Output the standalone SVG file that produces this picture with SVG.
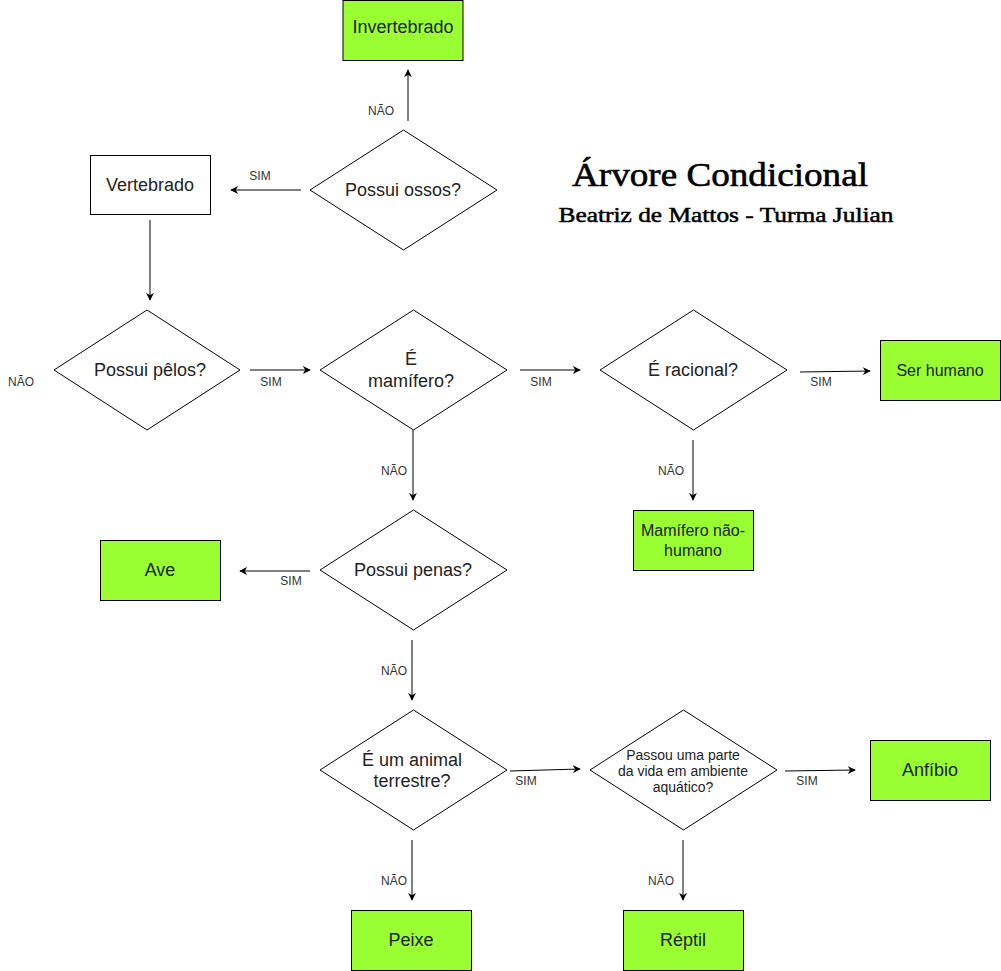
<svg xmlns="http://www.w3.org/2000/svg" width="1001" height="971" viewBox="0 0 1001 971">
<style>
.box{fill:#fff;stroke:#000;stroke-width:1}
.leaf{fill:#99ff33;stroke:#000;stroke-width:1}
.dia{fill:#fff;stroke:#000;stroke-width:1}
.t{font-family:"Liberation Sans",Arial,sans-serif;font-size:18px;fill:#222;text-anchor:middle}
.t16{font-family:"Liberation Sans",Arial,sans-serif;font-size:16px;fill:#222;text-anchor:middle}
.t14{font-family:"Liberation Sans",Arial,sans-serif;font-size:14px;fill:#222;text-anchor:middle}
.lbl{font-family:"Liberation Sans",Arial,sans-serif;font-size:12px;fill:#333;text-anchor:middle}
.edge{stroke:#000;stroke-width:1;fill:none;marker-end:url(#ah)}
.title{font-family:"Liberation Serif","Times New Roman",serif;fill:#000;stroke:#000;text-anchor:middle}
</style>
<defs>
<marker id="ah" viewBox="0 0 10 10" refX="9" refY="5" markerWidth="8" markerHeight="8" markerUnits="userSpaceOnUse" orient="auto">
<path d="M0,0 L10,5 L0,10 L3,5 Z" fill="#000"/>
</marker>
</defs>
<rect width="1001" height="971" fill="#fff"/>

<g id="connectors">
<line class="edge" x1="408" y1="121" x2="408" y2="70"/>
<line class="edge" x1="301" y1="190" x2="231" y2="190"/>
<line class="edge" x1="150" y1="220" x2="150" y2="300"/>
<line class="edge" x1="250" y1="370" x2="310" y2="370"/>
<line class="edge" x1="520" y1="370" x2="580" y2="370"/>
<line class="edge" x1="800" y1="372" x2="870" y2="371"/>
<line class="edge" x1="693" y1="440" x2="693" y2="500"/>
<line class="edge" x1="413" y1="430" x2="413" y2="500"/>
<line class="edge" x1="310" y1="571" x2="240" y2="571"/>
<line class="edge" x1="412" y1="640" x2="412" y2="700"/>
<line class="edge" x1="510" y1="771" x2="580" y2="769"/>
<line class="edge" x1="785" y1="771" x2="855" y2="770"/>
<line class="edge" x1="412" y1="840" x2="412" y2="900"/>
<line class="edge" x1="683" y1="840" x2="683" y2="900"/>
<text class="lbl" x="381" y="115">NÃO</text>
<text class="lbl" x="260" y="180">SIM</text>
<text class="lbl" x="21" y="386">NÃO</text>
<text class="lbl" x="271" y="386">SIM</text>
<text class="lbl" x="541" y="386">SIM</text>
<text class="lbl" x="821" y="386">SIM</text>
<text class="lbl" x="671" y="475">NÃO</text>
<text class="lbl" x="394" y="475">NÃO</text>
<text class="lbl" x="291" y="585">SIM</text>
<text class="lbl" x="394" y="675">NÃO</text>
<text class="lbl" x="526" y="785">SIM</text>
<text class="lbl" x="807" y="785">SIM</text>
<text class="lbl" x="394" y="885">NÃO</text>
<text class="lbl" x="661" y="885">NÃO</text>
</g>

<g id="title">
<text class="title" x="720" y="186" font-size="34" stroke-width="0.6" textLength="296" lengthAdjust="spacingAndGlyphs">Árvore Condicional</text>
<text class="title" x="726" y="222" font-size="21" stroke-width="0.5" textLength="335" lengthAdjust="spacingAndGlyphs">Beatriz de Mattos - Turma Julian</text>
</g>

<g id="invertebrado">
<rect class="leaf" x="343" y="0.5" width="120" height="60"/>
<text class="t" x="403" y="33">Invertebrado</text>
</g>
<g id="possui-ossos">
<polygon class="dia" points="403.5,130 497,190 403.5,250 310,190"/>
<text class="t" x="403" y="196">Possui ossos?</text>
</g>
<g id="vertebrado">
<rect class="box" x="90.5" y="155.5" width="120" height="59"/>
<text class="t" x="150" y="191">Vertebrado</text>
</g>
<g id="possui-pelos">
<polygon class="dia" points="147,310 240,370 147,430 54,370"/>
<text class="t" x="150" y="376">Possui pêlos?</text>
</g>
<g id="e-mamifero">
<polygon class="dia" points="413.5,310 507,370 413.5,430 320,370"/>
<text class="t" x="411" y="365">É</text>
<text class="t" x="411" y="387">mamífero?</text>
</g>
<g id="e-racional">
<polygon class="dia" points="693.5,310 787,370 693.5,430 600,370"/>
<text class="t" x="693" y="376">É racional?</text>
</g>
<g id="ser-humano">
<rect class="leaf" x="880.5" y="340.5" width="120" height="60"/>
<text class="t16" x="940" y="376">Ser humano</text>
</g>
<g id="mamifero-nao-humano">
<rect class="leaf" x="633.5" y="510.5" width="120" height="60"/>
<text class="t16" x="693" y="536">Mamífero não-</text>
<text class="t16" x="693" y="556">humano</text>
</g>
<g id="possui-penas">
<polygon class="dia" points="413.5,510 507,570 413.5,630 320,570"/>
<text class="t" x="413" y="576">Possui penas?</text>
</g>
<g id="ave">
<rect class="leaf" x="100.5" y="540.5" width="120" height="60"/>
<text class="t" x="160" y="576">Ave</text>
</g>
<g id="animal-terrestre">
<polygon class="dia" points="413.5,710 507,770 413.5,830 320,770"/>
<text class="t" x="412" y="766">É um animal</text>
<text class="t" x="412" y="787">terrestre?</text>
</g>
<g id="passou-aquatico">
<polygon class="dia" points="683.5,710 777,770 683.5,830 590,770"/>
<text class="t14" x="683" y="760">Passou uma parte</text>
<text class="t14" x="683" y="776">da vida em ambiente</text>
<text class="t14" x="683" y="792">aquático?</text>
</g>
<g id="anfibio">
<rect class="leaf" x="870.5" y="740.5" width="120" height="60"/>
<text class="t" x="930" y="776">Anfíbio</text>
</g>
<g id="peixe">
<rect class="leaf" x="351.5" y="910.5" width="120" height="60"/>
<text class="t" x="411" y="946">Peixe</text>
</g>
<g id="reptil">
<rect class="leaf" x="623.5" y="910.5" width="120" height="60"/>
<text class="t" x="683" y="946">Réptil</text>
</g>
</svg>
